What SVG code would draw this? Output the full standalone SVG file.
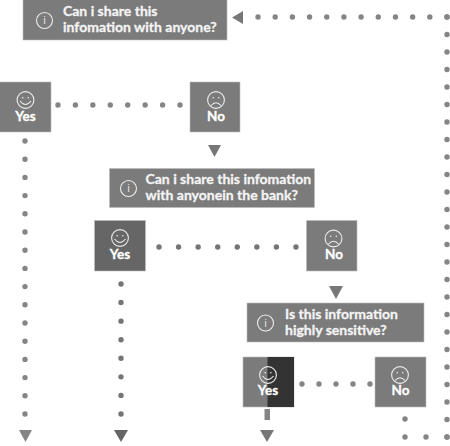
<svg xmlns="http://www.w3.org/2000/svg" width="450" height="446" viewBox="0 0 450 446">
<style>
.box{fill:#7b7b7b;stroke:#bdbdbd;stroke-width:.6}
.dark{fill:#666}
.t{font-family:Lato,"Noto Sans",sans-serif;font-weight:700;font-size:14px;fill:#f4f4f4;stroke:#f4f4f4;stroke-width:.3}
.l{font-family:Lato,"Noto Sans",sans-serif;font-weight:700;font-size:13.500px;fill:#fff;stroke:#fff;stroke-width:.3;text-anchor:middle}
.ic{fill:none;stroke:#ededed;stroke-width:1.1}
.dot{fill:none;stroke:#858585;stroke-width:5.4;stroke-linecap:round}
.d2{stroke:#757575}
.ar{fill:#777}
.eye{fill:#ededed}
.i{font-family:"Liberation Sans",sans-serif;font-size:10px;fill:#ededed;text-anchor:middle}
</style>
<defs>
<g id="smile"><circle class="ic" r="8.400"/><circle class="eye" cx="-2.800" cy="-2.200" r=".8"/><circle class="eye" cx="2.800" cy="-2.200" r=".8"/><path class="ic" d="M-5.500 1Q0 8 5.500 1"/></g>
<g id="frown"><circle class="ic" r="8.400"/><circle class="eye" cx="-2.800" cy="-2.200" r=".8"/><circle class="eye" cx="2.800" cy="-2.200" r=".8"/><path class="ic" d="M-5 5.500Q0 0 5 5.500"/></g>
<g id="info"><circle class="ic" r="8"/><text class="i" y="3.500">i</text></g>
</defs>
<g id="connectors">
<path class="dot" d="M447 17H257" stroke-dasharray="0 17.18"/>
<path class="dot" d="M447 17V438" stroke-dasharray="0 17.5"/>
<path class="dot" d="M447 437H404" stroke-dasharray="0 21"/>
<path class="dot" d="M405 419V420" stroke-dasharray="0 21"/>
<path class="dot" d="M58 105H181" stroke-dasharray="0 17.43"/>
<path class="dot" d="M25 141V415" stroke-dasharray="0 18.2"/>
<path class="dot d2" d="M159 247H297" stroke-dasharray="0 19.57"/>
<path class="dot d2" d="M121 284V415" stroke-dasharray="0 18.57"/>
<path class="dot" d="M302 384H371" stroke-dasharray="0 17"/>
<rect x="264.500" y="409" width="5.500" height="11" fill="#858585"/>
<path class="ar" d="M232 17.500L243 11V24Z"/>
<path class="ar" d="M208 145H221L214.500 157Z"/>
<path class="ar" d="M329 286H343L336 299Z"/>
<path style="fill:#858585" d="M19 430H32L25.500 442Z"/>
<path style="fill:#666" d="M114 430H128L121 442Z"/>
<path class="ar" d="M260 430H274L267 442Z"/>
</g>
<g id="q1"><rect class="box" x="23" y="-1" width="204" height="41"/><use href="#info" x="44.500" y="20.500"/><text class="t" x="63" y="15.500">Can i share this</text><text class="t" x="63" y="31.500">infomation with anyone?</text></g>
<g id="yes1"><rect class="box" x="-1" y="82" width="52" height="50"/><use href="#smile" x="25.500" y="100"/><text class="l" x="25.500" y="120.500">Yes</text></g>
<g id="no1"><rect class="box" x="190" y="82" width="50" height="50"/><use href="#frown" x="216" y="100"/><text class="l" x="216" y="120.500">No</text></g>
<g id="q2"><rect class="box" x="109.500" y="168.500" width="205" height="39"/><use href="#info" x="128.500" y="188.500"/><text class="t" x="145.500" y="184">Can i share this infomation</text><text class="t" x="145.500" y="200">with anyonein the bank?</text></g>
<g id="yes2"><rect class="box dark" x="94.500" y="220.500" width="51" height="50.500"/><use href="#smile" x="120" y="238"/><text class="l" x="120" y="258.500">Yes</text></g>
<g id="no2"><rect class="box" x="306.500" y="220.500" width="50.500" height="50.500"/><use href="#frown" x="333.500" y="238.500"/><text class="l" x="334" y="258.500">No</text></g>
<g id="q3"><rect class="box" x="247" y="303" width="177" height="39"/><use href="#info" x="265.500" y="323"/><text class="t" x="285" y="319">Is this information</text><text class="t" x="285" y="335">highly sensitive?</text></g>
<g id="yes3"><rect class="box" x="243" y="357" width="51" height="50"/><rect x="267.500" y="357" width="26.500" height="50" fill="#333"/><use href="#smile" x="268" y="375"/><text class="l" x="268" y="394.500">Yes</text></g>
<g id="no3"><rect class="box" x="375" y="357" width="51" height="50"/><use href="#frown" x="400" y="375"/><text class="l" x="400.500" y="394.500">No</text></g>
</svg>
